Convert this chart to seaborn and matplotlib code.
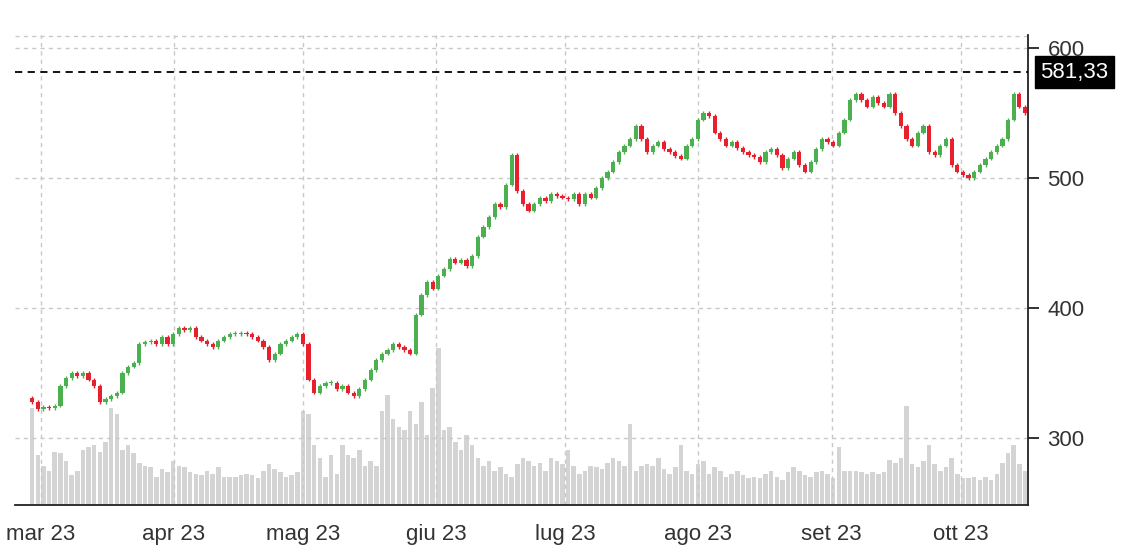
import numpy as np
import pandas as pd
import matplotlib
matplotlib.use("Agg")
import matplotlib.pyplot as plt
import matplotlib.dates as mdates
import seaborn as sns

# closing prices, month by month
closes = [328, 322, 324, 323, 325, 340, 346, 350, 348, 350, 345, 340, 328, 330, 332, 335, 350, 355, 358, 372, 374, 375, 372, 378, 372,
          380, 385, 383, 385, 378, 375, 372, 370, 375, 378, 380, 380, 381, 380, 378, 375, 370, 360, 365, 372, 375, 378, 380,
          372, 345, 335, 340, 342, 342, 338, 340, 335, 332, 338, 345, 352, 360, 365, 368, 372, 370, 368, 365, 395, 410, 420, 415, 425,
          430, 438, 435, 437, 432, 440, 455, 462, 470, 480, 478, 495, 518, 490, 480, 475, 480, 485, 482, 488, 486, 485, 484, 488, 480,
          488, 485, 492, 500, 505, 512, 520, 525, 530, 540, 530, 520, 525, 528, 522, 520, 517, 515, 525, 530,
          545, 550, 548, 535, 530, 525, 528, 523, 520, 518, 516, 512, 520, 522, 518, 508, 515, 520, 510, 505, 512, 522, 530, 528, 525,
          535, 545, 560, 565, 560, 555, 562, 558, 555, 565, 550, 540, 530, 525, 535, 540, 520, 518, 525, 530, 510,
          505, 502, 500, 505, 510, 515, 520, 525, 530, 545, 565, 555, 550]
opens = [331] + closes[:-1]

volumes = [62, 32, 25, 22, 34, 33, 28, 19, 22, 35, 37, 38, 34, 40, 62, 58, 35, 38, 33, 27, 25, 24, 18, 23, 21,
           28, 25, 24, 21, 20, 19, 22, 20, 24, 18, 18, 18, 19, 20, 19, 17, 22, 26, 23, 21, 18, 19, 21,
           60, 58, 38, 30, 18, 32, 20, 38, 32, 30, 35, 25, 28, 25, 60, 70, 55, 50, 48, 60, 52, 66, 45, 75, 100,
           48, 50, 40, 35, 45, 38, 30, 25, 28, 22, 24, 20, 18, 26, 30, 28, 25, 27, 22, 30, 28, 26, 35, 25, 20,
           22, 25, 24, 23, 27, 30, 28, 25, 52, 22, 25, 26, 25, 30, 23, 20, 24, 38, 22, 20,
           26, 28, 20, 24, 22, 18, 20, 22, 19, 17, 18, 17, 20, 22, 18, 16, 21, 24, 22, 19, 18, 21, 22, 20, 17,
           37, 22, 22, 22, 21, 20, 21, 20, 21, 29, 27, 30, 63, 26, 24, 28, 38, 26, 22, 24, 30,
           20, 17, 17, 18, 16, 18, 16, 20, 27, 33, 38, 26, 22]

start, end = mdates.date2num(pd.Timestamp("2023-02-27")), mdates.date2num(pd.Timestamp("2023-10-16"))
x = np.linspace(start, end, len(closes))
step = x[1] - x[0]
last_price = 581.33

sns.set_style("white")
plt.rcParams["font.family"] = ["Liberation Sans", "DejaVu Sans"]

fig = plt.figure(figsize=(11.44, 5.52), dpi=100)
ax = fig.add_axes([15 / 1144, 47 / 552, 1013 / 1144, 470 / 552])
axv = ax.twinx()

# volume on its own scale, behind the candles
axv.bar(x, volumes, width=step * 0.8, color="#d4d4d4", lw=0, zorder=1)
axv.set_ylim(0, max(volumes) * 3.0)
axv.set_yticks([])
for s in axv.spines.values():
    s.set_visible(False)

ax.set_zorder(axv.get_zorder() + 1)
ax.patch.set_visible(False)

up = np.array(closes) >= np.array(opens)
cols = np.where(up, "#4caf50", "#e8202e")
bottoms = np.minimum(opens, closes)
heights = np.maximum(np.abs(np.array(closes) - np.array(opens)), 1.0)
ax.bar(x, heights, bottom=bottoms, width=step * 0.75, color=cols, lw=0, zorder=3)
ax.vlines(x, np.array(bottoms) - 1.5, np.array(bottoms) + heights + 1.5, color=cols, lw=1, zorder=3)

ax.set_xlim(start - 4, end + 0.7)
ax.set_ylim(248.5, 610)
ax.yaxis.tick_right()
ax.set_yticks([300, 400, 500, 600])
ax.tick_params(axis="y", labelsize=16, length=8, width=1.3, color="#222222", labelcolor="#333333", pad=6)
months = ["2023-03-01", "2023-04-01", "2023-05-01", "2023-06-01", "2023-07-01", "2023-08-01", "2023-09-01", "2023-10-01"]
month_labels = ["mar 23", "apr 23", "mag 23", "giu 23", "lug 23", "ago 23", "set 23", "ott 23"]
ax.set_xticks([mdates.date2num(pd.Timestamp(m)) for m in months])
ax.set_xticklabels(month_labels)
ax.tick_params(axis="x", labelsize=16, length=8, width=1.3, color="#222222", labelcolor="#333333", pad=6)
ax.grid(True, color="#c8c8c8", ls=(0, (3, 3)), lw=1)
ax.axhline(609, color="#c8c8c8", ls=(0, (3, 3)), lw=1)
for s in ["top", "left"]:
    ax.spines[s].set_visible(False)
for s in ["bottom", "right"]:
    ax.spines[s].set_color("#222222")
    ax.spines[s].set_linewidth(1.3)

ax.axhline(last_price, color="black", ls=(0, (4, 3)), lw=1.3, zorder=4)
ax.text(1.012, last_price, f"{last_price:.2f}".replace(".", ","), transform=ax.get_yaxis_transform(),
        va="center", ha="left", fontsize=16, color="white",
        bbox=dict(boxstyle="square,pad=0.25", fc="black", ec="black"), clip_on=False)

fig.savefig("out.png", dpi=100)
